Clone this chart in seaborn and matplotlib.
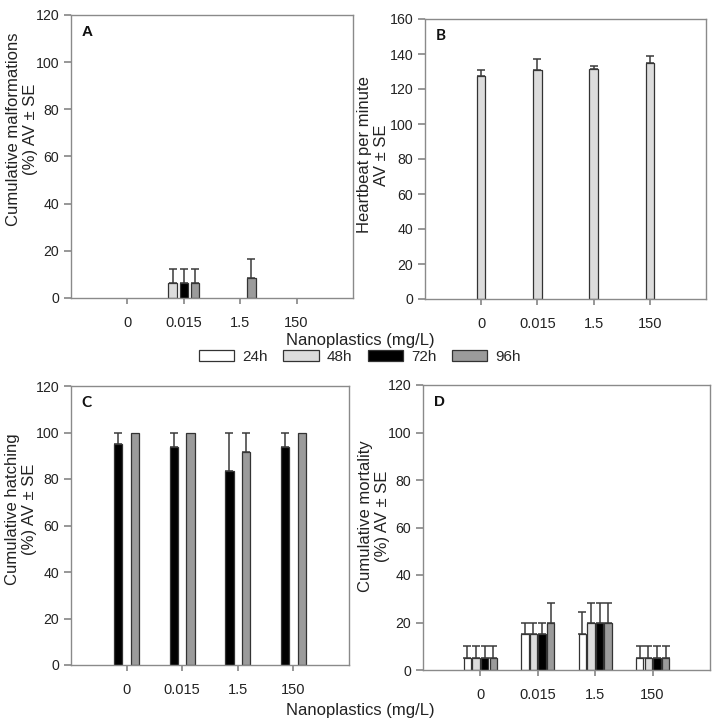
import numpy as np
import pandas as pd
import matplotlib
matplotlib.use("Agg")
import matplotlib.pyplot as plt
from matplotlib.patches import Patch
import seaborn as sns

# ---------------- data ----------------
concs = ["0", "0.015", "1.5", "150"]
times = ["24h", "48h", "72h", "96h"]

# A: cumulative malformations (%)
malf_24h = [0, 0, 0, 0]
malf_48h = [0, 6.25, 0, 0]
malf_72h = [0, 6.25, 0, 0]
malf_96h = [0, 6.25, 8.33, 0]
malf_se_24h = [0, 0, 0, 0]
malf_se_48h = [0, 6.25, 0, 0]
malf_se_72h = [0, 6.25, 0, 0]
malf_se_96h = [0, 6.25, 8.33, 0]

# B: heartbeat per minute (48h)
heart_48h = [127.5, 131.0, 131.7, 134.7]
heart_se_48h = [3.2, 6.2, 1.5, 4.4]

# C: cumulative hatching (%)
hatch_72h = [95.0, 93.75, 83.3, 93.75]
hatch_96h = [100, 100, 91.7, 100]
hatch_se_72h = [5.0, 6.25, 16.7, 6.25]
hatch_se_96h = [0, 0, 8.3, 0]

# D: cumulative mortality (%)
mort_24h = [5, 15, 15, 5]
mort_48h = [5, 15, 20, 5]
mort_72h = [5, 15, 20, 5]
mort_96h = [5, 20, 20, 5]
mort_se_24h = [5, 5, 9.5, 5]
mort_se_48h = [5, 5, 8.2, 5]
mort_se_72h = [5, 5, 8.2, 5]
mort_se_96h = [5, 8.2, 8.2, 5]

palette = {"24h": "#ffffff", "48h": "#dcdcdc", "72h": "#000000",
           "96h": "#9b9b9b", "pad": "#fefefd", "gap": "#fdfefe"}


def build(means, ses):
    rows = []
    for t in means:
        for c, m, s in zip(concs, means[t], ses[t]):
            rows.append({"conc": c, "time": t, "value": m, "se": s})
    return pd.DataFrame(rows)


# ---------------- style ----------------
sns.set_theme(style="ticks", rc={
    "axes.edgecolor": "#8a8a8a",
    "axes.linewidth": 1.0,
    "xtick.color": "#8a8a8a",
    "ytick.color": "#8a8a8a",
    "xtick.labelcolor": "#222222",
    "ytick.labelcolor": "#222222",
    "xtick.major.size": 4,
    "ytick.major.size": 5,
    "xtick.labelsize": 10.5,
    "ytick.labelsize": 10.2,
})
plt.rcParams["font.family"] = ["Liberation Sans", "DejaVu Sans"]

fig = plt.figure(figsize=(7.16, 7.25), dpi=100)
fig.patch.set_facecolor("white")

W, H = 716.0, 725.0


def add_axes(left, right, top, bottom):
    return fig.add_axes([left / W, (H - bottom) / H, (right - left) / W, (bottom - top) / H])


axA = add_axes(71, 353, 15, 298)
axB = add_axes(425, 706, 19, 299)
axC = add_axes(71, 349, 386, 665)
axD = add_axes(423, 710, 385, 670)


def draw(ax, df, hue_order, width, gap, capsize, ymax, letter, letter_font):
    sns.barplot(data=df, x="conc", y="value", hue="time", order=concs,
                hue_order=hue_order, palette={h: palette[h] for h in hue_order},
                width=width, gap=gap, dodge=True, errorbar=None, saturation=1,
                edgecolor="#333333", linewidth=0.9, legend=False, ax=ax)
    se_lookup = {(r.time, r.conc): r.se for r in df.itertuples()}
    rgb = {h: np.array(matplotlib.colors.to_rgb(palette[h])) for h in hue_order}
    for p in ax.patches:
        if p.get_height() == 0:
            p.set_visible(False)
            continue
        fc = np.array(p.get_facecolor()[:3])
        t = None
        for h, c in rgb.items():
            if np.allclose(fc, c, atol=1e-3):
                t = h
        if t is None:
            continue
        xc = p.get_x() + p.get_width() / 2
        ci = int(round(xc))
        se = se_lookup.get((t, concs[ci]), 0)
        if se and se > 0:
            ax.errorbar(xc, p.get_height(), yerr=[[0], [se]], fmt="none",
                        ecolor="#3a3a3a", elinewidth=1.1, capsize=capsize,
                        capthick=1.1, zorder=3)
    ax.set_xlim(-1, 4)
    ax.set_ylim(0, ymax)
    ax.set_yticks(np.arange(0, ymax + 1, 20))
    ax.set_xlabel("")
    ax.set_ylabel("")
    for s in ax.spines.values():
        s.set_visible(True)
        s.set_color("#8a8a8a")
    ax.tick_params(axis="x", pad=9)
    ax.text(0.037, 0.94, letter, transform=ax.transAxes, fontsize=11,
            fontweight="bold", va="center", ha="left", family=letter_font,
            color="#111111")


dfA = build({"24h": malf_24h, "48h": malf_48h, "72h": malf_72h, "96h": malf_96h},
            {"24h": malf_se_24h, "48h": malf_se_48h, "72h": malf_se_72h, "96h": malf_se_96h})
dfB = build({"48h": heart_48h}, {"48h": heart_se_48h})
dfC = build({"72h": hatch_72h, "96h": hatch_96h},
            {"72h": hatch_se_72h, "96h": hatch_se_96h})
dfD = build({"24h": mort_24h, "48h": mort_48h, "72h": mort_72h, "96h": mort_96h},
            {"24h": mort_se_24h, "48h": mort_se_48h, "72h": mort_se_72h, "96h": mort_se_96h})

draw(axA, dfA, ["24h", "48h", "72h", "96h", "pad"], 1.0, 0.25, 3.1, 120, "A",
     ["Liberation Sans"])
draw(axB, dfB, ["48h"], 0.15, 0.0, 3.1, 160, "B", ["Lato", "Liberation Sans"])
draw(axC, dfC, ["72h", "gap", "96h"], 0.45, 0.03, 3.0, 120, "C", ["Lato", "Liberation Sans"])
draw(axD, dfD, ["24h", "48h", "72h", "96h"], 0.6, 0.13, 2.8, 120, "D",
     ["Liberation Sans"])

# y labels
lab_kw = dict(rotation=90, ha="center", va="center", fontsize=12, color="#222222",
              multialignment="center", linespacing=1.1)
fig.text(22 / W, 1 - 129 / H, "Cumulative malformations\n(%) AV ± SE", **lab_kw)
fig.text(373 / W, 1 - 155 / H, "Heartbeat per minute\nAV ± SE", **lab_kw)
fig.text(21 / W, 1 - 509 / H, "Cumulative hatching\n(%) AV ± SE", **lab_kw)
fig.text(374 / W, 1 - 516 / H, "Cumulative mortality\n(%) AV ± SE", **lab_kw)

# x labels
fig.text(360 / W, 1 - 341 / H, "Nanoplastics (mg/L)", ha="center", va="center",
         fontsize=12, color="#222222")
fig.text(360 / W, 1 - 711 / H, "Nanoplastics (mg/L)", ha="center", va="center",
         fontsize=12, color="#222222")

# legend
handles = [Patch(facecolor=palette[t], edgecolor="#333333", linewidth=0.9, label=t)
           for t in times]
fig.legend(handles=handles, loc="center", bbox_to_anchor=(360 / W, 1 - 357 / H),
           ncol=4, frameon=False, fontsize=11, handlelength=2.3, handleheight=0.75,
           handletextpad=0.55, columnspacing=1.0, borderaxespad=0, borderpad=0)

fig.savefig("out.png", dpi=100, facecolor="white")
